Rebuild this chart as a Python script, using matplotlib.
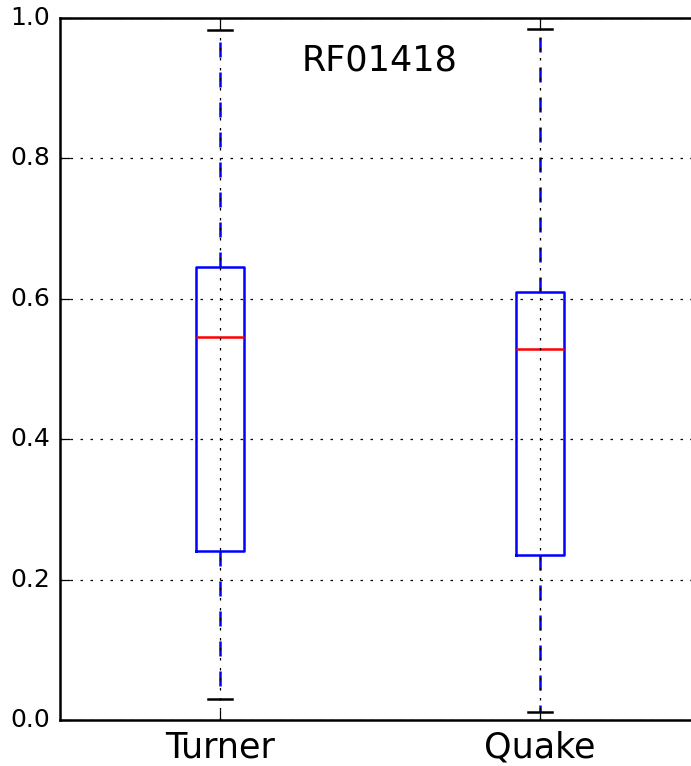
import matplotlib
matplotlib.use('Agg')
import matplotlib.pyplot as plt

plt.style.use('classic')

# box statistics
labels = ['Turner', 'Quake']
whislo = [0.030, 0.012]
q1 = [0.241, 0.235]
med = [0.546, 0.528]
q3 = [0.645, 0.609]
whishi = [0.983, 0.984]

stats = []
for i in range(len(labels)):
    stats.append({'label': labels[i], 'whislo': whislo[i], 'q1': q1[i],
                  'med': med[i], 'q3': q3[i], 'whishi': whishi[i], 'fliers': []})

dpi = 180
fig = plt.figure(figsize=(691 / dpi, 766 / dpi), dpi=dpi)
fig.patch.set_facecolor('white')
# axes run past the right edge, like the cropped original
ax = fig.add_axes([60 / 691, 46 / 766, 640 / 691, 702 / 766])

ax.bxp(stats, widths=0.15, showfliers=False)
ax.set_xlim(0.5, 2.5)
ax.set_ylim(0, 1.0)
ax.set_yticks([0.0, 0.2, 0.4, 0.6, 0.8, 1.0])
ax.tick_params(axis='y', labelsize=10)
ax.tick_params(axis='x', labelsize=14)
ax.grid(True)
ax.text(1.5, 0.94, 'RF01418', fontsize=14, ha='center', va='center')

fig.savefig('out.png', dpi=dpi)
